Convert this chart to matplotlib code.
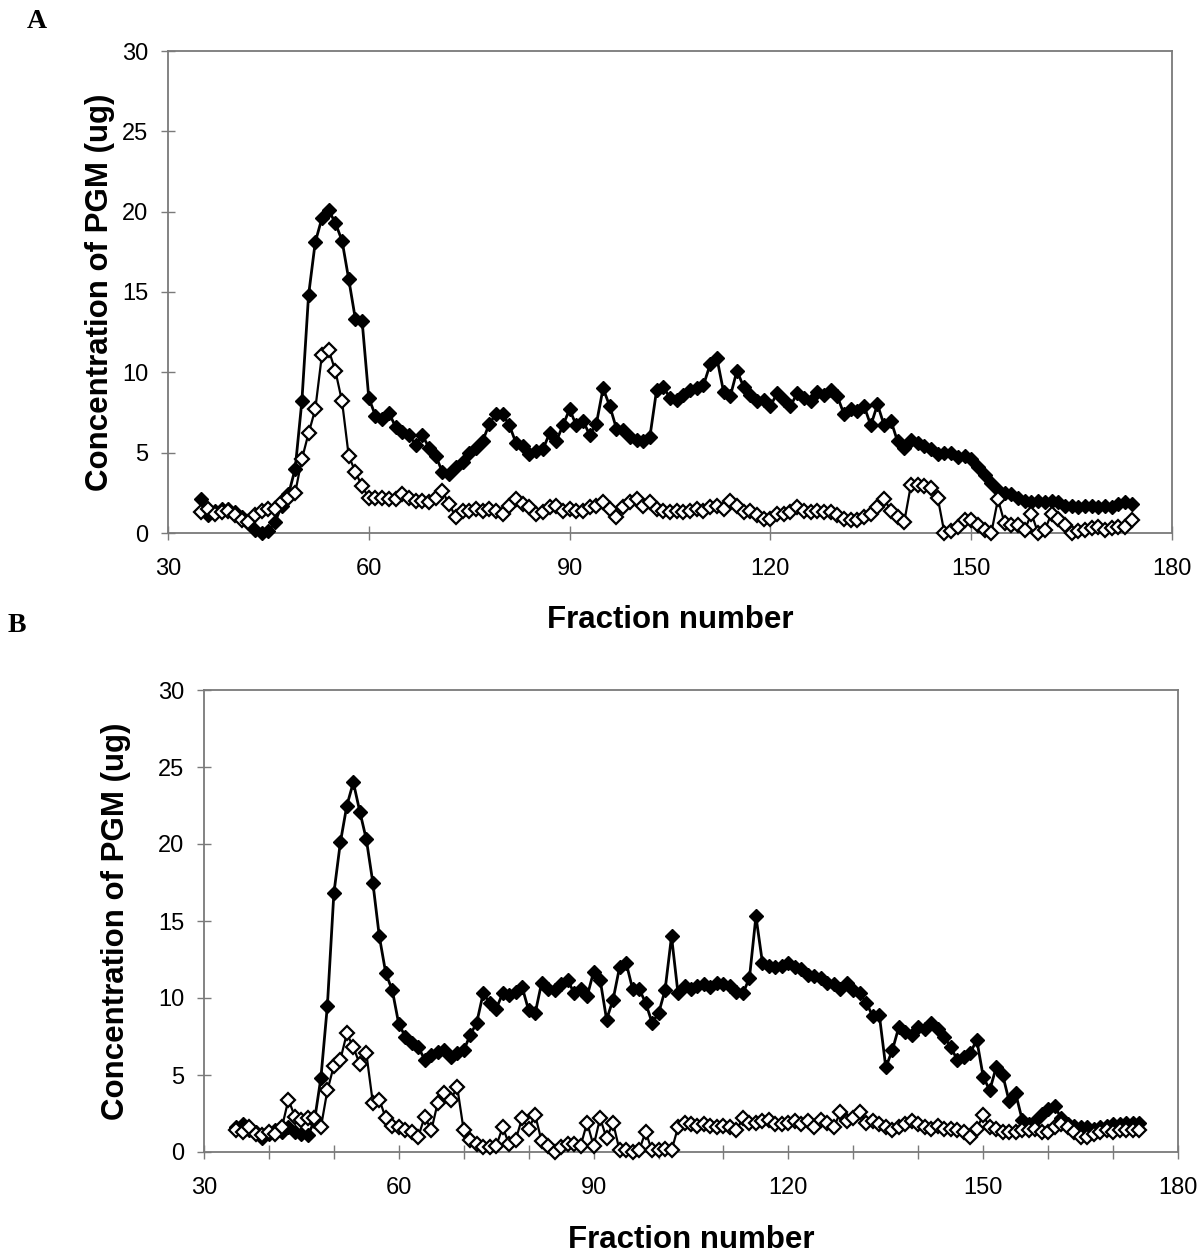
import numpy as np
import matplotlib.pyplot as plt

# fraction numbers (same for both panels)
fractions = list(range(35, 175))

# panel A - filled diamonds
a_filled = [
    2.1, 1.1, 1.4, 1.5, 1.5, 1.3, 1.0, 0.6, 0.2, 0.0,
    0.1, 0.7, 1.7, 2.4, 4.0, 8.2, 14.8, 18.1, 19.6, 20.1,
    19.3, 18.2, 15.8, 13.3, 13.2, 8.4, 7.3, 7.1, 7.5, 6.6,
    6.3, 6.1, 5.5, 6.1, 5.3, 4.8, 3.8, 3.7, 4.1, 4.4,
    5.0, 5.3, 5.7, 6.8, 7.4, 7.4, 6.7, 5.6, 5.4, 4.9,
    5.1, 5.2, 6.2, 5.7, 6.7, 7.7, 6.7, 7.0, 6.1, 6.8,
    9.0, 7.9, 6.5, 6.4, 6.0, 5.8, 5.7, 6.0, 8.9, 9.1,
    8.4, 8.3, 8.6, 8.9, 9.0, 9.2, 10.5, 10.9, 8.8, 8.5,
    10.1, 9.1, 8.6, 8.2, 8.3, 7.9, 8.7, 8.3, 7.9, 8.7,
    8.4, 8.2, 8.8, 8.6, 8.9, 8.5, 7.4, 7.7, 7.6, 7.9,
    6.7, 8.0, 6.7, 7.0, 5.7, 5.3, 5.8, 5.6, 5.4, 5.2,
    4.9, 5.0, 5.0, 4.7, 4.8, 4.6, 4.1, 3.6, 3.1, 2.7,
    2.5, 2.4, 2.2, 2.0, 1.9, 2.0, 1.9, 2.0, 1.9, 1.7,
    1.7, 1.6, 1.7, 1.7, 1.6, 1.7, 1.6, 1.8, 1.9, 1.8,
]

# panel A - open diamonds
a_open = [
    1.3, 1.5, 1.2, 1.3, 1.4, 1.1, 0.8, 0.7, 1.1, 1.4,
    1.5, 1.5, 1.9, 2.2, 2.5, 4.6, 6.2, 7.7, 11.1, 11.4,
    10.1, 8.2, 4.8, 3.8, 2.9, 2.2, 2.2, 2.2, 2.1, 2.1,
    2.4, 2.2, 2.0, 2.0, 1.9, 2.2, 2.6, 1.8, 1.0, 1.4,
    1.4, 1.5, 1.4, 1.5, 1.4, 1.2, 1.7, 2.1, 1.8, 1.6,
    1.2, 1.3, 1.6, 1.7, 1.4, 1.5, 1.4, 1.4, 1.6, 1.7,
    1.9, 1.5, 1.0, 1.6, 1.9, 2.1, 1.7, 1.9, 1.5, 1.4,
    1.3, 1.4, 1.3, 1.4, 1.5, 1.4, 1.6, 1.7, 1.5, 2.0,
    1.7, 1.3, 1.4, 1.1, 0.9, 0.9, 1.2, 1.2, 1.3, 1.6,
    1.4, 1.3, 1.4, 1.3, 1.3, 1.1, 0.9, 0.8, 0.8, 1.0,
    1.2, 1.6, 2.1, 1.4, 1.0, 0.7, 3.0, 3.0, 2.9, 2.8,
    2.2, 0.0, 0.1, 0.4, 0.8, 0.8, 0.5, 0.2, 0.0, 2.1,
    0.6, 0.5, 0.5, 0.2, 1.2, 0.0, 0.2, 1.2, 0.9, 0.5,
    0.0, 0.1, 0.2, 0.3, 0.4, 0.2, 0.3, 0.4, 0.4, 0.8,
]

# panel B - filled diamonds
b_filled = [
    1.6, 1.8, 1.4, 1.3, 0.9, 1.2, 1.4, 1.3, 1.6, 1.3,
    1.2, 1.1, 2.0, 4.8, 9.5, 16.8, 20.1, 22.5, 24.0, 22.1,
    20.3, 17.5, 14.0, 11.6, 10.5, 8.3, 7.5, 7.1, 6.8, 6.0,
    6.3, 6.5, 6.6, 6.2, 6.4, 6.6, 7.6, 8.4, 10.3, 9.7,
    9.3, 10.3, 10.2, 10.4, 10.7, 9.2, 9.0, 11.0, 10.6, 10.5,
    10.9, 11.2, 10.3, 10.6, 10.1, 11.7, 11.2, 8.6, 9.9, 12.0,
    12.3, 10.6, 10.6, 9.7, 8.4, 9.0, 10.5, 14.0, 10.3, 10.8,
    10.6, 10.8, 10.9, 10.7, 11.0, 10.9, 10.8, 10.4, 10.3, 11.3,
    15.3, 12.3, 12.1, 12.0, 12.1, 12.3, 12.0, 11.9, 11.5, 11.4,
    11.3, 11.0, 10.9, 10.6, 11.0, 10.5, 10.3, 9.7, 8.8, 8.9,
    5.5, 6.6, 8.1, 7.8, 7.6, 8.1, 8.0, 8.4, 8.0, 7.5,
    6.8, 6.0, 6.2, 6.4, 7.3, 4.9, 4.0, 5.5, 5.0, 3.3,
    3.8, 2.1, 1.8, 2.0, 2.5, 2.8, 3.0, 2.2, 1.8, 1.7,
    1.6, 1.6, 1.5, 1.6, 1.7, 1.8, 1.8, 1.9, 1.9, 1.9,
]

# panel B - open diamonds
b_open = [
    1.4, 1.3, 1.6, 1.2, 1.1, 1.3, 1.2, 1.6, 3.4, 2.3,
    2.1, 2.2, 2.2, 1.6, 4.0, 5.6, 6.0, 7.7, 6.8, 5.7,
    6.4, 3.2, 3.4, 2.2, 1.7, 1.6, 1.4, 1.3, 1.0, 2.3,
    1.4, 3.2, 3.8, 3.4, 4.2, 1.4, 0.8, 0.5, 0.3, 0.3,
    0.4, 1.6, 0.5, 0.8, 2.2, 1.5, 2.4, 0.7, 0.4, 0.0,
    0.3, 0.5, 0.5, 0.4, 1.9, 0.4, 2.2, 0.9, 1.9, 0.1,
    0.1, 0.0, 0.1, 1.3, 0.1, 0.1, 0.2, 0.1, 1.6, 1.9,
    1.8, 1.7, 1.8, 1.7, 1.6, 1.7, 1.6, 1.4, 2.2, 1.9,
    1.9, 2.0, 2.1, 1.8, 1.8, 1.9, 2.0, 1.8, 2.0, 1.6,
    2.1, 1.9, 1.6, 2.6, 2.0, 2.2, 2.6, 1.9, 2.0, 1.8,
    1.6, 1.4, 1.6, 1.8, 2.0, 1.8, 1.6, 1.5, 1.7, 1.5,
    1.5, 1.4, 1.3, 1.0, 1.5, 2.4, 1.6, 1.5, 1.3, 1.3,
    1.3, 1.4, 1.4, 1.5, 1.3, 1.3, 1.6, 1.8, 1.6, 1.3,
    1.0, 1.0, 1.2, 1.3, 1.4, 1.3, 1.4, 1.4, 1.4, 1.4,
]

x_ticks = [30, 60, 90, 120, 150, 180]
y_ticks = [0, 5, 10, 15, 20, 25, 30]

plt.rcParams['font.family'] = ['Liberation Sans', 'DejaVu Sans']

W, H = 1204, 1258
fig = plt.figure(figsize=(W / 100, H / 100), dpi=100)
fig.patch.set_facecolor("white")

# axes boxes in pixel coordinates: left, right, top, bottom
ax_a = fig.add_axes([168 / W, 1 - 533 / H, (1172 - 168) / W, (533 - 51) / H])
ax_b = fig.add_axes([204 / W, 1 - 1152 / H, (1178 - 204) / W, (1152 - 690) / H])

spine_col = "#7a7a7a"

panels = [(ax_a, a_filled, a_open, False, 18, 5),
          (ax_b, b_filled, b_open, True, 19, 20)]
for ax, filled, opened, minor, xpad, ypad in panels:
    ax.plot(fractions, filled, color="black", lw=2.0, marker="D", ms=7.4,
            mfc="black", mec="black", mew=1.0, clip_on=False, zorder=3)
    ax.plot(fractions, opened, color="black", lw=1.6, marker="D", ms=7.0,
            mfc="white", mec="black", mew=1.6, clip_on=False, zorder=4)
    ax.set_xlim(30, 180)
    ax.set_ylim(0, 30)
    ax.set_xticks(x_ticks)
    ax.set_yticks(y_ticks)
    if minor:
        ax.set_xticks(np.arange(40, 180, 10), minor=True)
        ax.tick_params(axis="x", which="minor", direction="inout", length=10,
                       width=1.0, color=spine_col)
    for s in ax.spines.values():
        s.set_color(spine_col)
        s.set_linewidth(1.3)
    ax.tick_params(axis="both", which="major", direction="inout", length=10,
                   width=1.0, color=spine_col, labelsize=17)
    ax.tick_params(axis="x", which="major", pad=13)
    ax.tick_params(axis="y", which="major", pad=9)
    ax.set_xlabel("Fraction number", fontsize=22.5, fontweight="bold", labelpad=xpad)
    ax.set_ylabel("Concentration of PGM (ug)", fontsize=22.5, fontweight="bold",
                  labelpad=ypad)

fig.text(37 / W, 1 - 22 / H, "A", fontsize=20, fontweight="bold",
         family=["Liberation Serif", "DejaVu Serif"], ha="center", va="center")
fig.text(17 / W, 1 - 625 / H, "B", fontsize=20, fontweight="bold",
         family=["Liberation Serif", "DejaVu Serif"], ha="center", va="center")

fig.savefig("out.png", dpi=100, facecolor="white")
